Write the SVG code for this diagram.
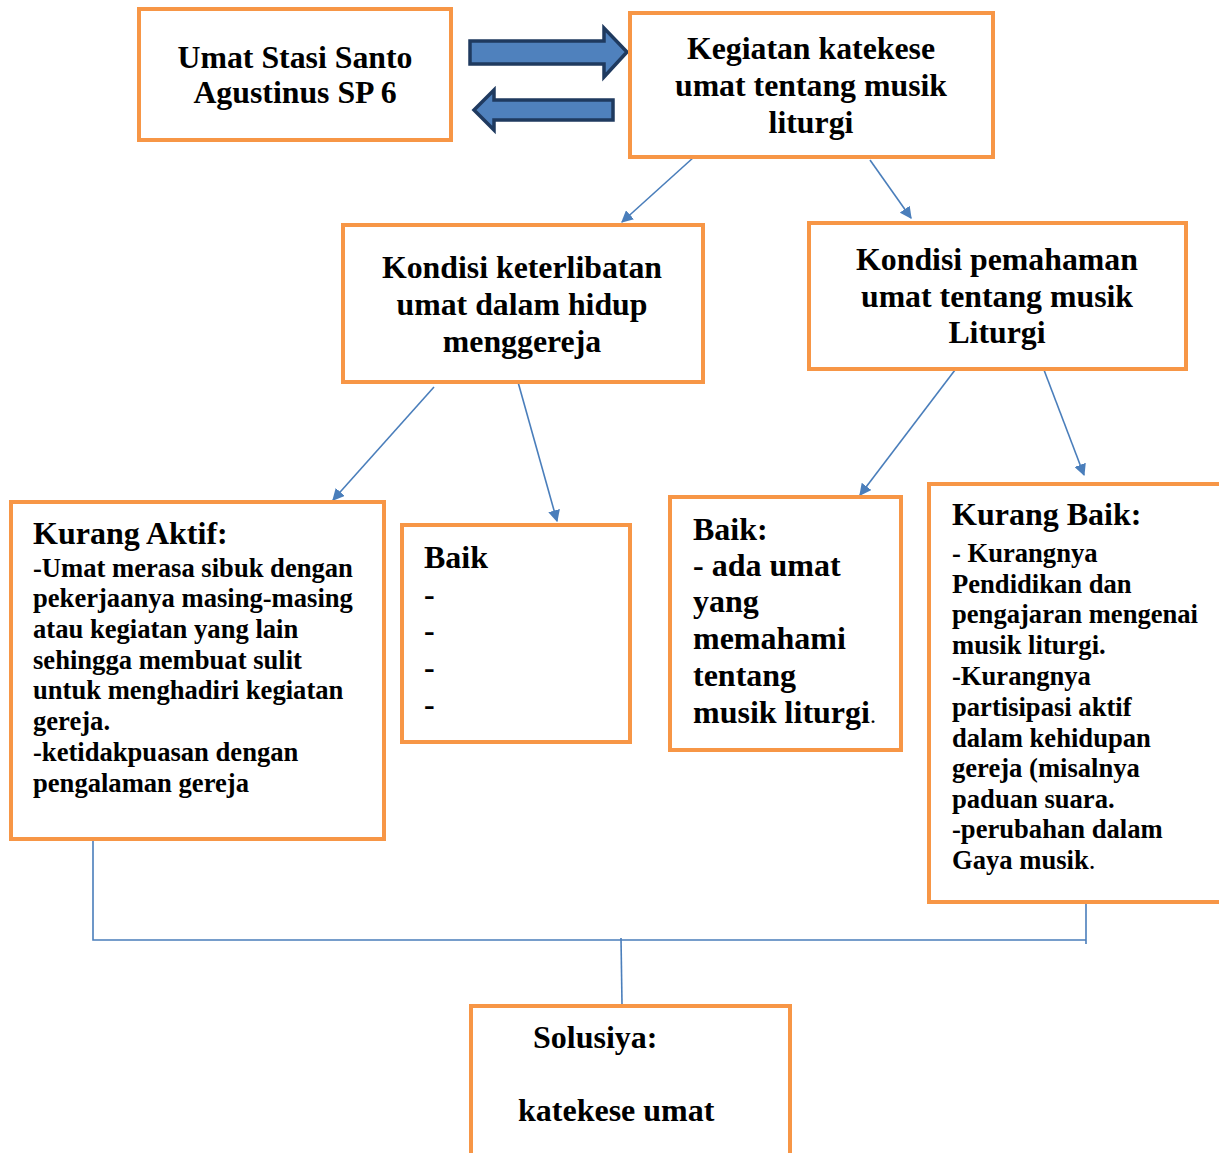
<svg xmlns="http://www.w3.org/2000/svg" width="1219" height="1153" viewBox="0 0 1219 1153">
<defs>
<style>
.box{fill:#fff;stroke:#F79646;stroke-width:4}
.t{font-family:"Liberation Serif","Times New Roman",serif;font-weight:bold;fill:#000}
.h{font-size:31.8px}
.s{font-size:26.6px}
.L{font-size:32px}
.c{text-anchor:middle}
.con{stroke:#4A7EBB;stroke-width:1.6;fill:none}
.blk{fill:#4F81BD;stroke:#1F3A5F;stroke-width:3.5;stroke-linejoin:miter}
.n{font-weight:normal}
</style>
<marker id="ah2" viewBox="0 0 10 10" refX="9" refY="5" markerWidth="12" markerHeight="12" markerUnits="userSpaceOnUse" orient="auto"><path d="M0,0 L10,5 L0,10 z" fill="#4A7EBB"/></marker>
</defs>

<g id="connectors">
<path class="blk" d="M470,41 L604,41 L604,28 L627,52 L604,77 L604,64 L470,64 Z"/>
<path class="blk" d="M613,100 L494,100 L494,90 L474,110 L494,130 L494,120 L613,120 Z"/>
<line x1="694" y1="157" x2="622" y2="222" class="con" marker-end="url(#ah2)"/>
<line x1="870" y1="160" x2="911" y2="218" class="con" marker-end="url(#ah2)"/>
<line x1="434" y1="387" x2="333" y2="500" class="con" marker-end="url(#ah2)"/>
<line x1="518" y1="382" x2="557" y2="521" class="con" marker-end="url(#ah2)"/>
<line x1="955" y1="370" x2="860" y2="495" class="con" marker-end="url(#ah2)"/>
<line x1="1044" y1="370" x2="1084" y2="475" class="con" marker-end="url(#ah2)"/>
<polyline class="con" points="93,840 93,940 1086,940"/>
<line x1="1086" y1="902" x2="1086" y2="944" class="con"/>
<line x1="621" y1="938" x2="622" y2="1004" class="con"/>
</g>

<g id="n1">
<rect class="box" x="139" y="9" width="312" height="131"/>
<text class="t h c" x="295" y="68">Umat Stasi Santo</text>
<text class="t h c" x="295" y="103">Agustinus SP 6</text>
</g>

<g id="n2">
<rect class="box" x="630" y="13" width="363" height="144"/>
<text class="t h c" x="811" y="59">Kegiatan katekese</text>
<text class="t h c" x="811" y="96">umat tentang musik</text>
<text class="t h c" x="811" y="133">liturgi</text>
</g>

<g id="n3">
<rect class="box" x="343" y="225" width="360" height="157"/>
<text class="t h c" x="522" y="278">Kondisi keterlibatan</text>
<text class="t h c" x="522" y="315">umat dalam hidup</text>
<text class="t h c" x="522" y="352">menggereja</text>
</g>

<g id="n4">
<rect class="box" x="809" y="223" width="377" height="146"/>
<text class="t h c" x="997" y="270">Kondisi pemahaman</text>
<text class="t h c" x="997" y="307">umat tentang musik</text>
<text class="t h c" x="997" y="343">Liturgi</text>
</g>

<g id="n5">
<rect class="box" x="11" y="502" width="373" height="337"/>
<text class="t L" x="33" y="544">Kurang Aktif:</text>
<text class="t s" x="33" y="577">-Umat merasa sibuk dengan</text>
<text class="t s" x="33" y="607">pekerjaanya masing-masing</text>
<text class="t s" x="33" y="638">atau kegiatan yang lain</text>
<text class="t s" x="33" y="669">sehingga membuat sulit</text>
<text class="t s" x="33" y="699">untuk menghadiri kegiatan</text>
<text class="t s" x="33" y="730">gereja.</text>
<text class="t s" x="33" y="761">-ketidakpuasan dengan</text>
<text class="t s" x="33" y="792">pengalaman gereja</text>
</g>

<g id="n6">
<rect class="box" x="402" y="525" width="228" height="217"/>
<text class="t L" x="424" y="568">Baik</text>
<text class="t L" x="424" y="605">-</text>
<text class="t L" x="424" y="641">-</text>
<text class="t L" x="424" y="678">-</text>
<text class="t L" x="424" y="715">-</text>
</g>

<g id="n7">
<rect class="box" x="670" y="497" width="231" height="253"/>
<text class="t L" x="693" y="540">Baik:</text>
<text class="t L" x="693" y="576">- ada umat</text>
<text class="t L" x="693" y="612">yang</text>
<text class="t L" x="693" y="649">memahami</text>
<text class="t L" x="693" y="686">tentang</text>
<text class="t L" x="693" y="723">musik liturgi<tspan class="n" font-size="24">.</tspan></text>
</g>

<g id="n8">
<rect class="box" x="929" y="484" width="300" height="418"/>
<text class="t L" x="952" y="525">Kurang Baik:</text>
<text class="t s" x="952" y="562">- Kurangnya</text>
<text class="t s" x="952" y="593">Pendidikan dan</text>
<text class="t s" x="952" y="623">pengajaran mengenai</text>
<text class="t s" x="952" y="654">musik liturgi.</text>
<text class="t s" x="952" y="685">-Kurangnya</text>
<text class="t s" x="952" y="716">partisipasi aktif</text>
<text class="t s" x="952" y="747">dalam kehidupan</text>
<text class="t s" x="952" y="777">gereja (misalnya</text>
<text class="t s" x="952" y="808">paduan suara.</text>
<text class="t s" x="952" y="838">-perubahan dalam</text>
<text class="t s" x="952" y="869">Gaya musik<tspan class="n">.</tspan></text>
</g>

<g id="n9">
<rect class="box" x="471" y="1006" width="319" height="160"/>
<text class="t L" x="533" y="1048">Solusiya:</text>
<text class="t L" x="518" y="1121">katekese umat</text>
</g>
</svg>
